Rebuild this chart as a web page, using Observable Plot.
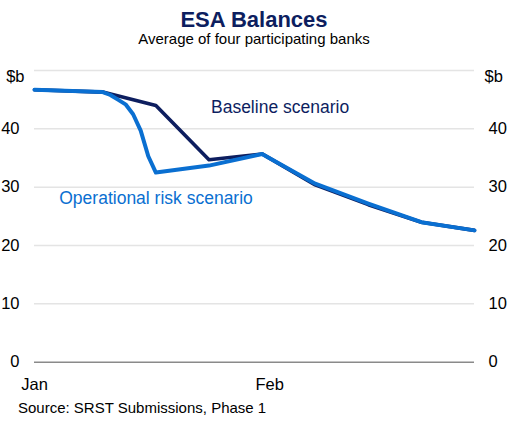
<!DOCTYPE html>
<html>
<head>
<meta charset="utf-8">
<script src="https://cdn.jsdelivr.net/npm/d3@7"></script>
<script src="https://cdn.jsdelivr.net/npm/@observablehq/plot@0.6"></script>
<style>
  html, body { margin: 0; padding: 0; background: #fff; }
  #wrap { position: relative; width: 508px; height: 432px; font-family: "Liberation Sans", Arial, sans-serif; }
  .t { position: absolute; left: 0; width: 508px; text-align: center; white-space: nowrap; }
  #title { top: 8.7px; font-size: 22px; line-height: 22px; font-weight: bold; color: #0d1e5f; }
  #subtitle { top: 31.3px; font-size: 15px; line-height: 15px; color: #000; }
  #chart { position: absolute; left: 0; top: 55px; }
  #source { position: absolute; left: 18px; top: 400px; font-size: 15px; line-height: 15px; color: #000; white-space: nowrap; }
</style>
</head>
<body>
<div id="wrap">
  <div id="title" class="t">ESA Balances</div>
  <div id="subtitle" class="t">Average of four participating banks</div>
  <div id="chart"></div>
  <div id="source">Source: SRST Submissions, Phase 1</div>
</div>
<script>
const parse = d3.utcParse("%Y-%m-%d");

// Baseline scenario ($b)
const baselineDates = ["2023-01-01", "2023-01-10", "2023-01-17", "2023-01-24", "2023-01-31", "2023-02-07", "2023-02-14", "2023-02-21", "2023-02-28"];
const baselineValues = [46.7, 46.3, 44.0, 34.7, 35.7, 30.4, 27.0, 24.0, 22.6];

// Operational risk scenario ($b)
const opDates = ["2023-01-01", "2023-01-10", "2023-01-11", "2023-01-12", "2023-01-13", "2023-01-14", "2023-01-15", "2023-01-16", "2023-01-17", "2023-01-24", "2023-01-31", "2023-02-07", "2023-02-14", "2023-02-21", "2023-02-28"];
const opValues = [46.7, 46.3, 45.8, 45.0, 44.2, 42.5, 39.7, 35.3, 32.5, 33.7, 35.7, 30.6, 27.2, 24.0, 22.6];

// Axis ticks
const yTicks = [0, 10, 20, 30, 40];
const gridValues = [10, 20, 30, 40, 50];
const xTicks = ["2023-01-01", "2023-02-01"];
const xTickLabels = ["Jan", "Feb"];
const unitLabel = "$b";

// Series labels
const seriesLabels = ["Baseline scenario", "Operational risk scenario"];
const seriesLabelDates = ["2023-01-24", "2023-01-04"];
const seriesLabelValues = [43.6, 28.0];

const navy = "#0d1e5f";
const blue = "#0a6fd1";

const baseline = baselineDates.map((d, i) => ({date: parse(d), value: baselineValues[i]}));
const operational = opDates.map((d, i) => ({date: parse(d), value: opValues[i]}));
const labels = seriesLabels.map((t, i) => ({text: t, date: parse(seriesLabelDates[i]), value: seriesLabelValues[i], color: i === 0 ? navy : blue}));
const xTickDates = xTicks.map(parse);

const chart = Plot.plot({
  width: 508,
  height: 340,
  marginTop: 15,
  marginBottom: 33.3,
  marginLeft: 34,
  marginRight: 34,
  style: {fontFamily: "'Liberation Sans', Arial, sans-serif", fontSize: "16.5px", color: "#000", background: "transparent", overflow: "visible"},
  x: {type: "utc", domain: [parse("2023-01-01"), parse("2023-02-28")]},
  y: {domain: [0, 50]},
  marks: [
    Plot.ruleY(gridValues, {stroke: "#e4e4e4", strokeWidth: 1.5}),
    Plot.ruleY([0], {stroke: "#8a8a8a", strokeWidth: 1.5}),
    Plot.axisY({anchor: "left", ticks: yTicks, tickSize: 0, tickPadding: 15, label: null, fill: "#000"}),
    Plot.axisY({anchor: "right", ticks: yTicks, tickSize: 0, tickPadding: 14, label: null, fill: "#000"}),
    Plot.text([unitLabel], {text: d => d, frameAnchor: "top-left", textAnchor: "end", dx: -10, fill: "#000"}),
    Plot.text([unitLabel], {text: d => d, frameAnchor: "top-right", textAnchor: "start", dx: 10, fill: "#000"}),
    Plot.axisX({ticks: xTickDates, tickFormat: d => xTickLabels[xTickDates.findIndex(t => +t === +d)], tickSize: 0, tickPadding: 16, label: null, fill: "#000"}),
    Plot.lineY(baseline, {x: "date", y: "value", stroke: navy, strokeWidth: 3.6}),
    Plot.lineY(operational, {x: "date", y: "value", stroke: blue, strokeWidth: 4}),
    Plot.text(labels, {x: "date", y: "value", text: "text", fill: "color", textAnchor: "start", dx: 2, fontSize: 17.5})
  ]
});
document.getElementById("chart").appendChild(chart);
</script>
</body>
</html>
